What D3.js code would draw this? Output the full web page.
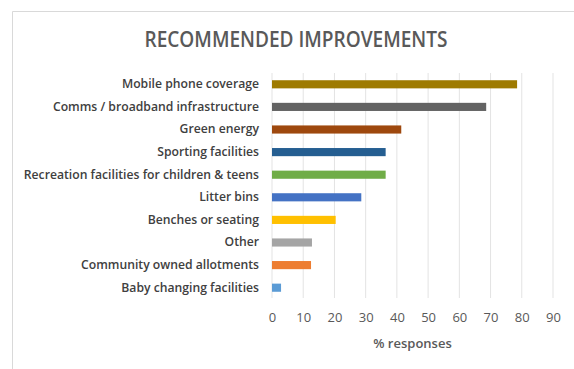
<!DOCTYPE html>
<html>
<head>
<meta charset="utf-8">
<title>Recommended Improvements</title>
<script src="https://cdn.jsdelivr.net/npm/d3@7"></script>
<style>
  body { margin: 0; background: #fff; }
  text { font-family: "Open Sans", "Noto Sans", sans-serif; }
</style>
</head>
<body>
<script>
  var categories = [
    "Mobile phone coverage",
    "Comms / broadband infrastructure",
    "Green energy",
    "Sporting facilities",
    "Recreation facilities for children & teens",
    "Litter bins",
    "Benches or seating",
    "Other",
    "Community owned allotments",
    "Baby changing facilities"
  ];
  var values = [78.5, 68.6, 41.4, 36.4, 36.4, 28.6, 20.4, 12.8, 12.5, 2.9];
  var colors = ["#9e7a00", "#636363", "#9e480e", "#255e91", "#70ad47",
                "#4472c4", "#ffc000", "#a5a5a5", "#ed7d31", "#5b9bd5"];
  var ticks = [0, 10, 20, 30, 40, 50, 60, 70, 80, 90];

  var width = 574, height = 369;
  var margin = { top: 73, bottom: 71, left: 272, right: 21 };

  var svg = d3.select("body").append("svg").attr("width", width).attr("height", height);

  // chart frame (right edge is cut off in the original)
  svg.append("path")
    .attr("d", "M 590 11.5 H 12.5 V 369")
    .attr("fill", "none")
    .attr("stroke", "#d9d9d9")
    .attr("stroke-width", 1);

  var x = d3.scaleLinear().domain([0, 90]).range([margin.left, 553]);
  var y = d3.scaleBand().domain(categories)
    .range([margin.top, height - margin.bottom + 1])
    .paddingInner(0.64).paddingOuter(0.32);

  // gridlines
  svg.append("g").selectAll("line")
    .data(ticks).enter().append("line")
    .attr("x1", function (d) { return x(d); })
    .attr("x2", function (d) { return x(d); })
    .attr("y1", margin.top)
    .attr("y2", height - margin.bottom)
    .attr("stroke", "#e3e3e3")
    .attr("stroke-width", 1);

  // bars
  svg.append("g").selectAll("rect")
    .data(values).enter().append("rect")
    .attr("x", x(0))
    .attr("y", function (d, i) { return y(categories[i]); })
    .attr("width", function (d) { return x(d) - x(0); })
    .attr("height", y.bandwidth())
    .attr("fill", function (d, i) { return colors[i]; });

  // category labels
  var yAxis = d3.axisLeft(y).tickSize(0).tickPadding(13);
  var gy = svg.append("g")
    .attr("transform", "translate(" + margin.left + ",0)")
    .call(yAxis);
  gy.select(".domain").remove();
  gy.selectAll("text")
    .attr("fill", "#404040")
    .attr("font-size", "12.2px")
    .attr("font-weight", 600)
    .attr("font-family", "'Open Sans', sans-serif");

  // value axis
  var xAxis = d3.axisBottom(x).tickValues(ticks).tickSize(0).tickPadding(15);
  var gx = svg.append("g")
    .attr("transform", "translate(0," + (height - margin.bottom) + ")")
    .call(xAxis);
  gx.select(".domain").remove();
  gx.selectAll("text")
    .attr("fill", "#595959")
    .attr("font-size", "13px")
    .attr("font-family", "'Open Sans', sans-serif");

  svg.append("text")
    .attr("x", x(45))
    .attr("y", 348)
    .attr("text-anchor", "middle")
    .attr("fill", "#595959")
    .attr("font-size", "13px")
    .attr("font-weight", 600)
    .text("% responses");

  svg.append("text")
    .attr("x", 296)
    .attr("y", 47)
    .attr("text-anchor", "middle")
    .attr("fill", "#595959")
    .attr("font-size", "21px")
    .attr("font-weight", 600)
    .attr("textLength", 303)
    .attr("lengthAdjust", "spacingAndGlyphs")
    .text("RECOMMENDED IMPROVEMENTS");
</script>
</body>
</html>
